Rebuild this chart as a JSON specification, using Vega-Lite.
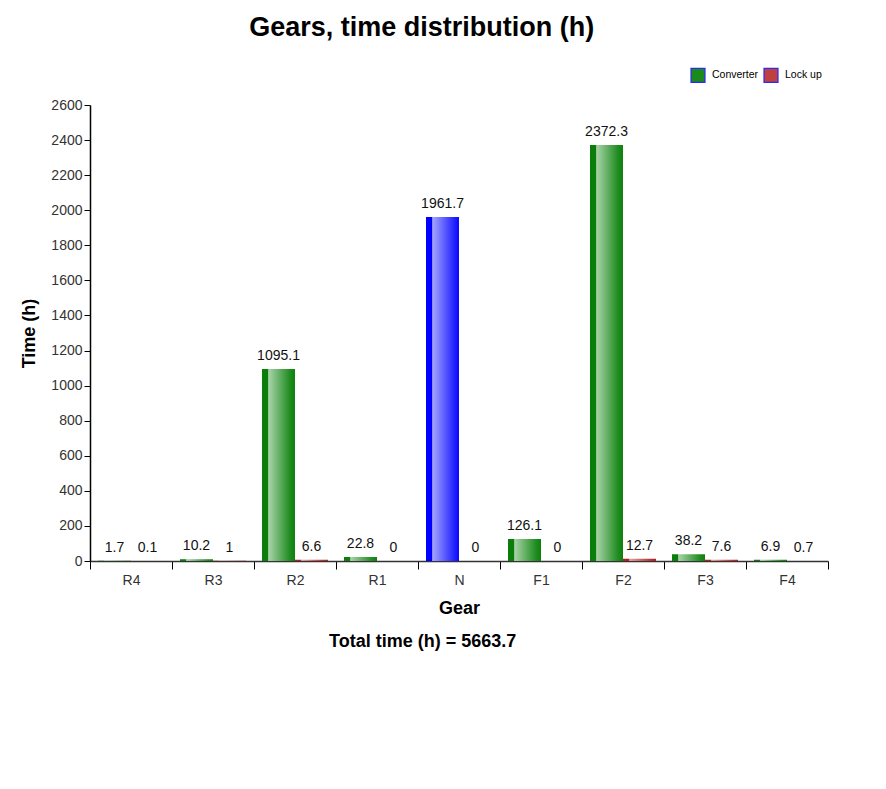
{
  "$schema": "https://vega.github.io/schema/vega-lite/v6.json",
  "background": "white",
  "padding": {"left": 20, "top": 14, "right": 10, "bottom": 5},
  "title": {"text": "Gears, time distribution (h)", "fontSize": 27, "font": "Liberation Sans", "fontWeight": "bold", "color": "#000", "anchor": "middle", "offset": 25, "dx": -3},
  "config": {"concat": {"spacing": 0}, "view": {"stroke": null}, "font": "Liberation Sans"},
  "data": {"values": [
    {"gear": "R4", "series": "Converter", "value": 1.7},
    {"gear": "R4", "series": "Lock up", "value": 0.1},
    {"gear": "R3", "series": "Converter", "value": 10.2},
    {"gear": "R3", "series": "Lock up", "value": 1},
    {"gear": "R2", "series": "Converter", "value": 1095.1},
    {"gear": "R2", "series": "Lock up", "value": 6.6},
    {"gear": "R1", "series": "Converter", "value": 22.8},
    {"gear": "R1", "series": "Lock up", "value": 0},
    {"gear": "N", "series": "Converter", "value": 1961.7},
    {"gear": "N", "series": "Lock up", "value": 0},
    {"gear": "F1", "series": "Converter", "value": 126.1},
    {"gear": "F1", "series": "Lock up", "value": 0},
    {"gear": "F2", "series": "Converter", "value": 2372.3},
    {"gear": "F2", "series": "Lock up", "value": 12.7},
    {"gear": "F3", "series": "Converter", "value": 38.2},
    {"gear": "F3", "series": "Lock up", "value": 7.6},
    {"gear": "F4", "series": "Converter", "value": 6.9},
    {"gear": "F4", "series": "Lock up", "value": 0.7}
  ]},
  "vconcat": [
    {
      "width": 738,
      "height": 456,
      "title": {"text": "Total time (h) = 5663.7", "orient": "bottom", "frame": "bounds", "fontSize": 18, "fontWeight": "bold", "color": "#000", "anchor": "middle", "offset": 16, "dx": -2},
      "encoding": {
        "x": {"field": "gear", "type": "nominal", "sort": ["R4", "R3", "R2", "R1", "N", "F1", "F2", "F3", "F4"],
          "scale": {"paddingInner": 0, "paddingOuter": 0},
          "axis": {"title": "Gear", "titleFontSize": 18, "titleFontWeight": "bold", "titleColor": "#000", "titlePadding": 12,
            "labelAngle": 0, "labelFontSize": 14, "labelColor": "#333", "labelPadding": 4, "tickBand": "extent", "tickSize": 8, "tickColor": "#000", "domainColor": "#333", "domainWidth": 1.5}},
        "xOffset": {"field": "series", "type": "nominal", "scale": {"domain": ["Converter", "Lock up"], "paddingInner": 0, "paddingOuter": 0.2424}},
        "y": {"field": "value", "type": "quantitative",
          "scale": {"domain": [0, 2600], "nice": false},
          "axis": {"title": "Time (h)", "titleFontSize": 18, "titleFontWeight": "bold", "titleColor": "#000", "titlePadding": 12, "format": "d",
            "values": [0, 200, 400, 600, 800, 1000, 1200, 1400, 1600, 1800, 2000, 2200, 2400, 2600],
            "grid": false, "labelFontSize": 14, "labelColor": "#333", "labelPadding": 2, "tickSize": 6, "tickColor": "#000", "domainColor": "#000", "domainWidth": 1.5}}
      },
      "layer": [
        {
          "transform": [{"filter": "datum.series == 'Converter' && datum.gear != 'N'"}],
          "mark": {"type": "bar", "color": {"gradient": "linear", "x1": 0, "x2": 1, "y1": 0, "y2": 0, "stops": [
            {"offset": 0, "color": "#0b7d0b"}, {"offset": 0.18, "color": "#0b7d0b"}, {"offset": 0.2, "color": "#a9d3a9"}, {"offset": 0.85, "color": "#1f8c1f"}, {"offset": 1, "color": "#0e800e"}]}}
        },
        {
          "transform": [{"filter": "datum.series == 'Converter' && datum.gear == 'N'"}],
          "mark": {"type": "bar", "color": {"gradient": "linear", "x1": 0, "x2": 1, "y1": 0, "y2": 0, "stops": [
            {"offset": 0, "color": "#0000ff"}, {"offset": 0.18, "color": "#0000ff"}, {"offset": 0.2, "color": "#a4a4ff"}, {"offset": 0.85, "color": "#2424ff"}, {"offset": 1, "color": "#0808ff"}]}}
        },
        {
          "transform": [{"filter": "datum.series == 'Lock up'"}],
          "mark": {"type": "bar", "color": {"gradient": "linear", "x1": 0, "x2": 1, "y1": 0, "y2": 0, "stops": [
            {"offset": 0, "color": "#b02020"}, {"offset": 0.18, "color": "#b02020"}, {"offset": 0.2, "color": "#e0a0a0"}, {"offset": 0.85, "color": "#b83030"}, {"offset": 1, "color": "#b02020"}]}}
        },
        {
          "mark": {"type": "text", "baseline": "bottom", "dy": -6, "fontSize": 14, "color": "#111"},
          "encoding": {"text": {"field": "value", "type": "nominal"}}
        },
        {
          "transform": [{"filter": "false"}],
          "mark": {"type": "square", "filled": true, "opacity": 1},
          "encoding": {
            "color": {"field": "series", "type": "nominal",
              "scale": {"domain": ["Converter", "Lock up"], "range": ["#1a8a1a", "#c04040"]},
              "legend": {"title": null, "orient": "none", "legendX": 600, "legendY": -38, "direction": "horizontal",
                "symbolType": "square", "symbolSize": 196, "labelFontSize": 10.5, "labelColor": "#000", "columnPadding": 2, "labelOffset": 6,
                "symbolStrokeColor": "#2a2aff", "symbolStrokeWidth": 1.2,
                "encode": {"symbols": {"update": {"stroke": {"value": "#2a2aff"}, "strokeWidth": {"value": 1.2}, "opacity": {"value": 1}}}}}
            }
          }
        }
      ]
    }
  ]
}
